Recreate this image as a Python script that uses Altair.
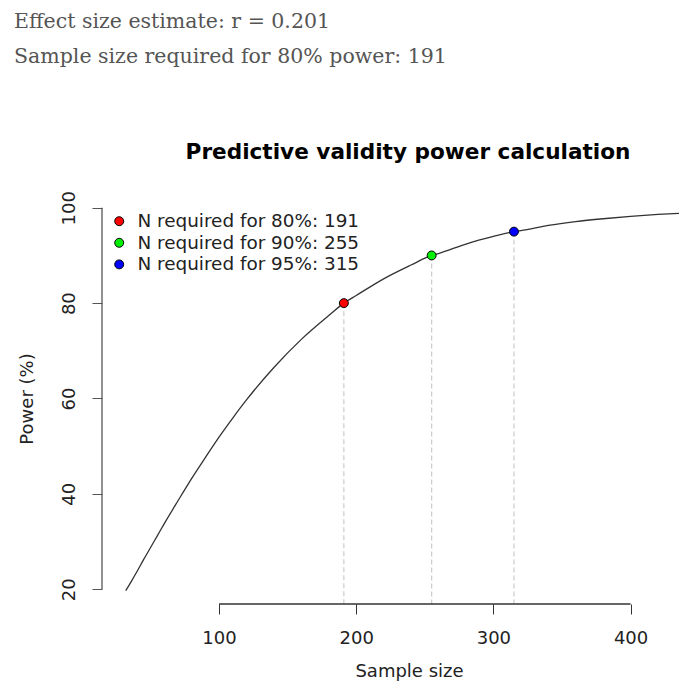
import altair as alt
import pandas as pd

# ---- data ----
header_lines = ["Effect size estimate: r = 0.201",
                "Sample size required for 80% power: 191"]
plot_title = "Predictive validity power calculation"

curve_n = [32, 36, 40, 45, 50, 55, 60, 70, 80, 90, 100, 110, 120, 140, 160, 180, 191,
           200, 220, 240, 255, 260, 280, 300, 315, 320, 340, 360, 380, 400, 420, 440]
curve_power = [19.7, 21.6, 23.6, 26.2, 28.7, 31.2, 33.7, 38.5, 43.2, 47.6, 51.9,
               55.9, 59.7, 66.5, 72.4, 77.4, 80.0, 81.6, 85.1, 88.0, 90.0, 90.4,
               92.4, 94.0, 95.0, 95.2, 96.3, 97.1, 97.7, 98.2, 98.6, 98.9]

target_n = [191, 255, 315]
target_power = [80, 90, 95]
target_labels = ["N required for 80%: 191", "N required for 90%: 255",
                 "N required for 95%: 315"]
target_colors = ["#ff0000", "#00ee00", "#0000ff"]

x_ticks = [100, 200, 300, 400]
y_ticks = [20, 40, 60, 80, 100]

curve_df = pd.DataFrame({"n": curve_n, "power": curve_power})
pts_df = pd.DataFrame({"n": target_n, "power": target_power, "label": target_labels})

W, H = 577, 411
xdom = [14.7, 435.3]
ydom = [16.9, 103.1]
FONT = "DejaVu Sans"

xs = alt.Scale(domain=xdom, nice=False, zero=False)
ys = alt.Scale(domain=ydom, nice=False, zero=False)

x_axis = alt.Axis(values=x_ticks, grid=False, domain=False, tickSize=10,
                  tickColor="#333", labelFont=FONT, labelFontSize=18,
                  labelColor="#222", labelPadding=15, title="Sample size",
                  titleFont=FONT, titleFontSize=18, titleFontWeight="normal",
                  titleColor="#222", titlePadding=15, titleX=307,
                  titleAnchor="start", titleAlign="center", labelFlush=False)
y_axis = alt.Axis(values=y_ticks, grid=False, domain=False, tickSize=10,
                  tickColor="#555", labelFont=FONT, labelFontSize=18,
                  labelColor="#222", labelAngle=-90, labelPadding=14,
                  title="Power (%)", titleFont=FONT, titleFontSize=18,
                  titleFontWeight="normal", titleColor="#222", titlePadding=24,
                  labelFlush=False)

base_x = alt.X("n:Q", scale=xs, axis=x_axis)
base_y = alt.Y("power:Q", scale=ys, axis=y_axis)

curve = alt.Chart(curve_df).mark_line(color="#333", strokeWidth=1.3, clip=True,
                                      interpolate="monotone").encode(x=base_x, y=base_y)

rules = alt.Chart(pts_df).mark_rule(color="#cccccc", strokeDash=[5, 3],
                                    strokeWidth=1.2).encode(
    x="n:Q", y="power:Q", y2=alt.value(H))

points = alt.Chart(pts_df).mark_point(filled=True, shape="circle", size=80,
                                      stroke="black", strokeWidth=1, opacity=1).encode(
    x="n:Q", y="power:Q",
    fill=alt.Fill("label:N", scale=alt.Scale(domain=target_labels, range=target_colors),
                  legend=alt.Legend(title=None, orient="none", legendX=8, legendY=19,
                                    labelFont=FONT, labelFontSize=18.4, labelColor="#222",
                                    labelLimit=500,
                                    symbolSize=80, symbolStrokeColor="black",
                                    symbolStrokeWidth=1, symbolType="circle",
                                    labelOffset=9, rowPadding=2.6, padding=0,
                                    symbolOpacity=1)))

xline = alt.Chart(pd.DataFrame({"a": [x_ticks[0]], "b": [x_ticks[-1]]})).mark_rule(
    color="#333", strokeWidth=1.3).encode(x="a:Q", x2="b:Q", y=alt.value(H))
yline = alt.Chart(pd.DataFrame({"a": [y_ticks[0]], "b": [y_ticks[-1]]})).mark_rule(
    color="#555", strokeWidth=1.3).encode(y="a:Q", y2="b:Q", x=alt.value(0))

h1 = alt.Chart(pd.DataFrame({"t": [header_lines[0]]})).mark_text(
    align="left", baseline="middle", font="DejaVu Serif", fontSize=20.5,
    color="#555").encode(text="t:N", x=alt.value(-88), y=alt.value(-171))
h2 = alt.Chart(pd.DataFrame({"t": [header_lines[1]]})).mark_text(
    align="left", baseline="middle", font="DejaVu Serif", fontSize=20.5,
    color="#555").encode(text="t:N", x=alt.value(-88), y=alt.value(-136))
ttl = alt.Chart(pd.DataFrame({"t": [plot_title]})).mark_text(
    align="center", baseline="middle", font=FONT, fontSize=21.6, fontWeight="bold",
    color="#000").encode(text="t:N", x=alt.value(306), y=alt.value(-40))

chart = alt.layer(rules, curve, points, xline, yline, h1, h2, ttl).properties(
    width=W, height=H,
    autosize=alt.AutoSizeParams(type="none"),
    padding={"left": 94, "top": 185, "right": 0, "bottom": 78},
).configure(background="white").configure_view(stroke=None, strokeWidth=0)

chart.save("out.html", embed_options={"renderer": "svg", "actions": False})
